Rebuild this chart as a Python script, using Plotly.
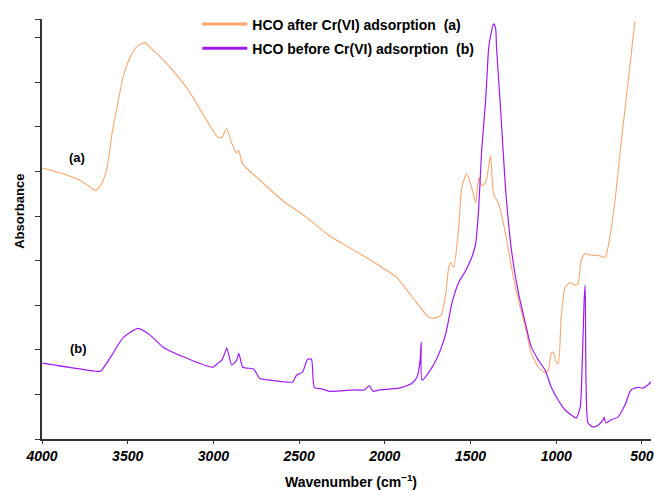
import plotly.graph_objects as go

# --- Data ---
wn_a = [3998, 3876, 3777, 3708, 3688, 3650, 3620, 3591, 3562, 3527, 3487, 3446, 3400, 3359, 3313,
        3270, 3154, 3061, 2981, 2952, 2923, 2894, 2865, 2853, 2829, 2713, 2597, 2457, 2323, 2178,
        2033, 1935, 1841, 1743, 1714, 1673, 1644, 1627, 1615, 1598, 1569, 1551, 1522, 1493, 1470,
        1452, 1435, 1412, 1383, 1366, 1337, 1296, 1261, 1220, 1180, 1145, 1104, 1064, 1046, 1029,
        1017, 1000, 988, 971, 948, 919, 890, 872, 855, 831, 797, 756, 715, 698, 657, 622, 582, 541]
abs_a = [6.08, 5.95, 5.80, 5.62, 5.57, 5.74, 6.10, 6.86, 7.45, 8.12, 8.55, 8.80, 8.89, 8.75, 8.58,
         8.41, 7.87, 7.29, 6.80, 6.76, 6.96, 6.64, 6.42, 6.47, 6.17, 5.75, 5.35, 4.97, 4.56, 4.23,
         3.89, 3.64, 3.19, 2.73, 2.71, 2.77, 3.27, 3.85, 3.96, 3.85, 4.74, 5.64, 5.95, 5.64, 5.30,
         5.86, 5.68, 5.75, 6.35, 5.50, 5.28, 4.61, 3.85, 3.11, 2.51, 1.92, 1.61, 1.48, 1.54, 1.92,
         1.95, 1.72, 1.70, 2.73, 3.40, 3.51, 3.45, 3.49, 4.00, 4.16, 4.12, 4.12, 4.07, 4.30, 5.35,
         6.62, 7.96, 9.37]

wn_b = [3998, 3688, 3659, 3601, 3525, 3438, 3369, 3293, 3154, 3003, 2974, 2951, 2934, 2922, 2893,
        2864, 2852, 2829, 2806, 2765, 2730, 2672, 2538, 2515, 2480, 2451, 2428, 2411, 2364, 2323,
        2178, 2120, 2091, 2068, 2033, 1917, 1841, 1812, 1794, 1788, 1783, 1742, 1696, 1644, 1609,
        1569, 1528, 1493, 1470, 1452, 1435, 1412, 1394, 1383, 1366, 1354, 1348, 1325, 1296, 1261,
        1220, 1180, 1145, 1104, 1064, 1029, 988, 948, 913, 884, 860, 849, 837, 831, 826, 814,
        785, 756, 727, 721, 709, 680, 640, 599, 564, 524, 495, 466, 448]
abs_b = [1.70, 1.52, 1.52, 1.83, 2.28, 2.48, 2.33, 2.06, 1.81, 1.61, 1.70, 1.77, 1.92, 2.04, 1.66,
         1.77, 1.92, 1.61, 1.59, 1.57, 1.36, 1.32, 1.28, 1.43, 1.50, 1.79, 1.79, 1.16, 1.12, 1.07,
         1.10, 1.10, 1.19, 1.07, 1.10, 1.14, 1.25, 1.39, 1.77, 2.17, 1.32, 1.50, 1.81, 2.37, 3.04,
         3.51, 3.78, 4.07, 4.38, 5.19, 6.47, 7.58, 8.77, 9.04, 9.31, 9.22, 8.77, 7.43, 5.64, 4.23,
         3.27, 2.60, 2.06, 1.77, 1.54, 1.16, 0.87, 0.65, 0.54, 0.47, 0.72, 1.61, 3.11, 3.45, 1.25, 0.36,
         0.27, 0.31, 0.43, 0.49, 0.36, 0.43, 0.49, 0.76, 1.10, 1.16, 1.14, 1.21, 1.28]

x_ticks = [4000, 3500, 3000, 2500, 2000, 1500, 1000, 500]
y_ticks = [0, 1, 2, 3, 4, 5, 6, 7, 8, 9, 9.42]

name_a = "HCO after Cr(VI) adsorption\u00a0 (a)"
name_b = "HCO before Cr(VI) adsorption\u00a0 (b)"
col_a = "#F8A56C"
col_b = "#9E1CF0"

FONT = "Liberation Sans, Arial, sans-serif"

fig = go.Figure()
fig.add_trace(go.Scatter(x=wn_a, y=abs_a, mode="lines",
                         line=dict(color=col_a, width=1.1, shape="spline", smoothing=0.6),
                         showlegend=False))
fig.add_trace(go.Scatter(x=wn_b, y=abs_b, mode="lines",
                         line=dict(color=col_b, width=1.2, shape="spline", smoothing=0.6),
                         showlegend=False))
# legend entries (thicker key lines as in the reference)
fig.add_trace(go.Scatter(x=[None], y=[None], mode="lines", name=name_a, legendgroup="a",
                         line=dict(color=col_a, width=3)))
fig.add_trace(go.Scatter(x=[None], y=[None], mode="lines", name=name_b, legendgroup="b",
                         line=dict(color=col_b, width=3)))

fig.update_layout(
    width=654, height=490,
    margin=dict(l=42, r=0, t=19, b=51),
    paper_bgcolor="white", plot_bgcolor="white",
    font=dict(family=FONT, color="black"),
    legend=dict(x=0.255, y=1.025, xanchor="left", yanchor="top", itemwidth=45,
                font=dict(family=FONT, size=14, weight="bold", color="black"),
                bgcolor="rgba(0,0,0,0)", tracegroupgap=3),
    xaxis=dict(range=[4000, 447], tickvals=x_ticks, ticktext=[str(v) for v in x_ticks],
               showgrid=False, zeroline=False, showline=True, linecolor="#333333", linewidth=1.5,
               ticks="outside", ticklen=3, tickwidth=1, tickcolor="#333333",
               ticklabeloverflow="allow",
               tickfont=dict(family=FONT, size=14, weight="bold", style="italic", color="black")),
    yaxis=dict(range=[0, 9.42], tickvals=y_ticks, showticklabels=False,
               showgrid=False, zeroline=False, showline=True, linecolor="#333333", linewidth=1.5,
               ticks="outside", ticklen=5, tickwidth=1, tickcolor="#333333"),
    annotations=[
        dict(text="(a)", x=3795, y=6.31, xref="x", yref="y", showarrow=False,
             font=dict(family=FONT, size=13, weight="bold")),
        dict(text="(b)", x=3789, y=2.02, xref="x", yref="y", showarrow=False,
             font=dict(family=FONT, size=13, weight="bold")),
        dict(text="Absorbance", x=-0.052, y=0.543, xref="paper", yref="paper", textangle=-90,
             showarrow=False, font=dict(family=FONT, size=13, weight="bold")),
        dict(text="Wavenumber (cm<sup>\u22121</sup>)", x=0.507, y=-0.074, xref="paper", yref="paper",
             xanchor="center", yanchor="top",
             showarrow=False, font=dict(family=FONT, size=14, weight="bold")),
    ],
)

fig.write_html("out.html")
